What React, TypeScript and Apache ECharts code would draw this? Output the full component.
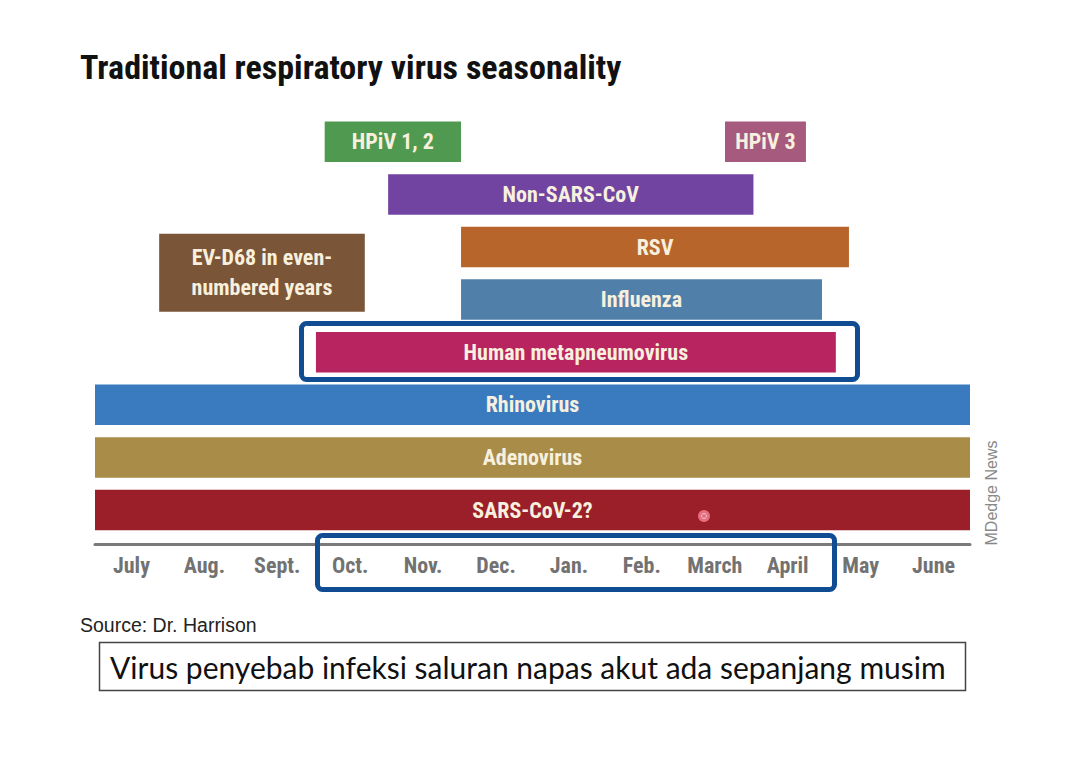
import React, { useEffect, useRef } from 'react';
import * as echarts from 'echarts';

const months = ['July', 'Aug.', 'Sept.', 'Oct.', 'Nov.', 'Dec.', 'Jan.', 'Feb.', 'March', 'April', 'May', 'June'];

const viruses = [
  'HPiV 1, 2',
  'HPiV 3',
  'Non-SARS-CoV',
  'RSV',
  'EV-D68 in even-\nnumbered years',
  'Influenza',
  'Human metapneumovirus',
  'Rhinovirus',
  'Adenovirus',
  'SARS-CoV-2?',
];
// season in months from start of July (0) to end of June (12)
const seasonStart = [3.15, 8.64, 4.02, 5.02, 0.88, 5.02, 3.03, 0, 0, 0];
const seasonEnd = [5.02, 9.75, 9.03, 10.34, 3.7, 9.97, 10.16, 12, 12, 12];
// row levels (0 = bottom row)
const rowLow = [7, 7, 6, 5, 4, 4, 3, 2, 1, 0];
const rowHigh = [7, 7, 6, 5, 5, 4, 3, 2, 1, 0];
const barColors = [
  '#4f9a50', '#a65a7e', '#7044a0', '#b8652b', '#7b5537',
  '#5080aa', '#b8245f', '#3a7bc0', '#a98c48', '#9b1f29',
];

const COND = '"Liberation Sans Narrow", "Roboto Condensed", "DejaVu Sans Condensed", Roboto, sans-serif';

export default function App() {
  const ref = useRef<HTMLDivElement>(null);
  useEffect(() => {
    const chart = echarts.init(ref.current!, null, { renderer: 'svg' });
    const data = viruses.map((name, i) => ({
      name,
      value: [seasonStart[i], seasonEnd[i], rowLow[i], rowHigh[i]],
    }));
    chart.setOption({
      animation: false,
      backgroundColor: '#ffffff',
      grid: { left: 95, right: 119, top: 115.5, bottom: 216.8 },
      xAxis: [
        { type: 'value', min: 0, max: 12, show: false },
        {
          type: 'category',
          data: months,
          position: 'bottom',
          boundaryGap: true,
          axisLine: { lineStyle: { color: '#7a7a7a', width: 3 } },
          axisTick: { show: false },
          splitLine: { show: false },
          axisLabel: { color: '#727272', fontFamily: COND, fontWeight: 'bold', fontSize: 22, margin: 10 },
        },
      ],
      yAxis: { type: 'value', min: -0.65, max: 7.5, show: false },
      series: [
        {
          type: 'custom',
          xAxisIndex: 0,
          yAxisIndex: 0,
          data,
          renderItem: (params: any, api: any) => {
            const s = api.value(0);
            const e = api.value(1);
            const lo = api.value(2);
            const hi = api.value(3);
            const p0 = api.coord([s, hi]);
            const p1 = api.coord([e, lo]);
            const rowPx = Math.abs(api.size([0, 1])[1]);
            let top: number;
            let bottom: number;
            if (hi > lo) {
              top = p0[1] - rowPx * 0.25;
              bottom = p1[1] + rowPx * 0.23;
            } else {
              top = p0[1] - rowPx * 0.385;
              bottom = p1[1] + rowPx * 0.385;
            }
            const x = p0[0];
            const w = p1[0] - p0[0];
            return {
              type: 'group',
              children: [
                { type: 'rect', shape: { x, y: top, width: w, height: bottom - top }, style: { fill: barColors[params.dataIndex] } },
                {
                  type: 'text',
                  style: {
                    text: viruses[params.dataIndex],
                    x: x + w / 2,
                    y: (top + bottom) / 2,
                    align: 'center',
                    verticalAlign: 'middle',
                    fill: '#f7f0de',
                    fontFamily: COND,
                    fontWeight: 'bold',
                    fontSize: 22,
                    lineHeight: 30,
                  },
                },
              ],
            };
          },
        },
      ],
      graphic: [
        {
          type: 'text', left: 80, top: 50, z: 10,
          style: { text: 'Traditional respiratory virus seasonality', fill: '#111', fontFamily: COND, fontWeight: 'bold', fontSize: 34 },
        },
        {
          type: 'text', left: 80, top: 615, z: 10,
          style: { text: 'Source: Dr. Harrison', fill: '#222', fontFamily: '"Liberation Sans", Arial, sans-serif', fontSize: 19.5 },
        },
        {
          type: 'rect', z: 10,
          shape: { x: 99.5, y: 642.5, width: 866, height: 48 },
          style: { fill: '#ffffff', stroke: '#444', lineWidth: 1.5 },
        },
        {
          type: 'text', z: 11, x: 110, y: 667,
          style: { text: 'Virus penyebab infeksi saluran napas akut ada sepanjang musim', fill: '#111', fontFamily: 'Lato, "Open Sans", sans-serif', fontSize: 30, verticalAlign: 'middle' },
        },
        {
          type: 'text', z: 10, x: 991, y: 493, rotation: Math.PI / 2,
          style: { text: 'MDedge News', fill: '#888', fontFamily: '"Liberation Sans", Arial, sans-serif', fontSize: 16, align: 'center', verticalAlign: 'middle' },
        },
        {
          type: 'rect', z: 20,
          shape: { x: 301.5, y: 323.5, width: 556, height: 56, r: 5 },
          style: { fill: 'none', stroke: '#0f4c92', lineWidth: 5 },
        },
        {
          type: 'rect', z: 20,
          shape: { x: 317.5, y: 535.5, width: 517, height: 54, r: 5 },
          style: { fill: 'none', stroke: '#0f4c92', lineWidth: 5 },
        },
        {
          type: 'circle', z: 20,
          shape: { cx: 704, cy: 516, r: 6 },
          style: { fill: '#e46f80' },
        },
        {
          type: 'circle', z: 21,
          shape: { cx: 704, cy: 516, r: 2.5 },
          style: { fill: 'none', stroke: '#f7c0c8', lineWidth: 1 },
        },
      ],
    });
    return () => chart.dispose();
  }, []);
  return <div ref={ref} style={{ position: 'fixed', left: 0, top: 0, width: 1089, height: 761 }} />;
}
